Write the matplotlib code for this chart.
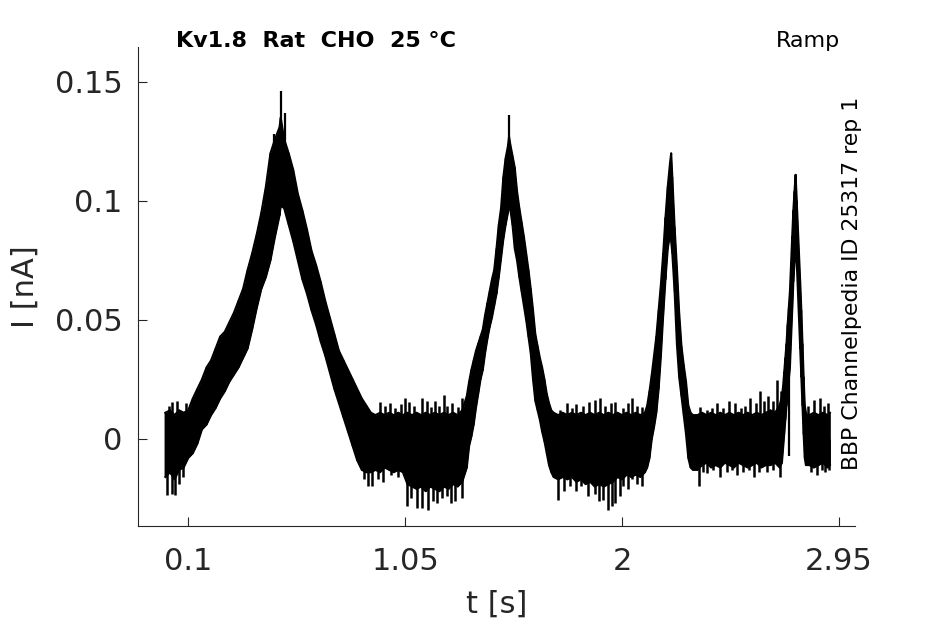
import numpy as np
import matplotlib
matplotlib.use("Agg")
import matplotlib.pyplot as plt

# time samples [s] and upper / lower edge of the dense part of the current trace [nA]
t_s = [0.00, 0.02, 0.04, 0.06, 0.08, 0.10,
       0.12, 0.14, 0.16, 0.18, 0.20, 0.22, 0.24, 0.26, 0.28, 0.30,
       0.32, 0.34, 0.36, 0.38, 0.40, 0.42, 0.44, 0.46, 0.48, 0.50, 0.505,
       0.52, 0.54, 0.56, 0.58, 0.60, 0.62, 0.64, 0.66, 0.68, 0.70,
       0.72, 0.74, 0.76, 0.78, 0.80, 0.82, 0.84, 0.86, 0.88,
       0.90, 0.92, 0.94, 0.96, 0.98, 1.00, 1.02, 1.04, 1.06, 1.08,
       1.10, 1.12, 1.14, 1.16, 1.18, 1.20, 1.22, 1.24, 1.26, 1.28, 1.30,
       1.32, 1.33, 1.34, 1.35, 1.36, 1.37, 1.38, 1.39, 1.40, 1.41,
       1.42, 1.43, 1.44, 1.45, 1.46, 1.47, 1.48, 1.49, 1.50, 1.505,
       1.51, 1.52, 1.53, 1.54, 1.55, 1.56, 1.57, 1.58, 1.59, 1.60,
       1.61, 1.62, 1.63, 1.64, 1.65, 1.66, 1.67, 1.68, 1.69, 1.70,
       1.72, 1.74, 1.76, 1.78, 1.80, 1.82, 1.84, 1.86, 1.88, 1.90,
       1.92, 1.94, 1.96, 1.98, 2.00, 2.02, 2.04, 2.06, 2.08, 2.10, 2.11,
       2.12, 2.13, 2.14, 2.15, 2.16, 2.17, 2.18, 2.19, 2.20, 2.21, 2.215,
       2.22, 2.23, 2.24, 2.25, 2.26, 2.27, 2.28, 2.29, 2.30, 2.31,
       2.33, 2.35, 2.37, 2.39, 2.41, 2.43, 2.45, 2.47, 2.49, 2.51,
       2.53, 2.55, 2.57, 2.59, 2.61, 2.63, 2.65, 2.67, 2.69,
       2.70, 2.705, 2.71, 2.715, 2.72, 2.725, 2.73, 2.735, 2.74, 2.745,
       2.75, 2.755, 2.76, 2.765, 2.77, 2.775, 2.78, 2.785, 2.79, 2.795,
       2.80, 2.805, 2.81,
       2.82, 2.84, 2.86, 2.88, 2.90, 2.91]

hi_na = [0.011, 0.012, 0.010, 0.012, 0.011, 0.012,
         0.017, 0.021, 0.025, 0.030, 0.033, 0.038, 0.043, 0.045, 0.049, 0.053,
         0.058, 0.063, 0.071, 0.078, 0.086, 0.095, 0.106, 0.120, 0.126, 0.131, 0.135,
         0.126, 0.120, 0.113, 0.103, 0.096, 0.088, 0.079, 0.073, 0.066, 0.058,
         0.051, 0.044, 0.037, 0.033, 0.029, 0.025, 0.021, 0.017, 0.014,
         0.011, 0.010, 0.011, 0.010, 0.011, 0.010, 0.011, 0.010, 0.011, 0.010,
         0.011, 0.010, 0.011, 0.010, 0.011, 0.010, 0.011, 0.010, 0.011, 0.010, 0.012,
         0.018, 0.024, 0.029, 0.033, 0.037, 0.040, 0.043, 0.046, 0.052, 0.057,
         0.062, 0.067, 0.071, 0.080, 0.090, 0.097, 0.110, 0.118, 0.123, 0.127,
         0.124, 0.119, 0.114, 0.104, 0.097, 0.091, 0.085, 0.078, 0.071, 0.063,
         0.054, 0.044, 0.039, 0.034, 0.030, 0.025, 0.019, 0.015, 0.012, 0.011,
         0.010, 0.011, 0.010, 0.011, 0.010, 0.011, 0.010, 0.011, 0.010, 0.011,
         0.010, 0.011, 0.010, 0.011, 0.010, 0.011, 0.010, 0.011, 0.010, 0.011, 0.014,
         0.020, 0.027, 0.035, 0.043, 0.054, 0.065, 0.078, 0.093, 0.106, 0.116, 0.120,
         0.110, 0.089, 0.072, 0.053, 0.039, 0.031, 0.024, 0.014, 0.011, 0.010,
         0.010, 0.011, 0.010, 0.011, 0.010, 0.011, 0.010, 0.011, 0.010, 0.011,
         0.010, 0.011, 0.010, 0.011, 0.010, 0.011, 0.012, 0.011, 0.014,
         0.018, 0.022, 0.028, 0.034, 0.040, 0.048, 0.055, 0.062, 0.074, 0.085,
         0.096, 0.104, 0.111, 0.100, 0.088, 0.077, 0.066, 0.054, 0.040, 0.026,
         0.014, 0.011, 0.010,
         0.010, 0.011, 0.010, 0.011, 0.010, 0.011]

lo_na = [-0.016, -0.014, -0.017, -0.013, -0.012, -0.008,
         -0.006, -0.002, 0.004, 0.006, 0.010, 0.013, 0.017, 0.020, 0.024, 0.027,
         0.030, 0.034, 0.038, 0.046, 0.055, 0.063, 0.068, 0.075, 0.085, 0.094, 0.098,
         0.097, 0.090, 0.083, 0.075, 0.067, 0.061, 0.054, 0.048, 0.041, 0.035,
         0.028, 0.021, 0.015, 0.009, 0.003, -0.003, -0.009, -0.013, -0.014,
         -0.014, -0.013, -0.014, -0.012, -0.013, -0.014, -0.013, -0.014, -0.019, -0.020,
         -0.021, -0.020, -0.022, -0.020, -0.021, -0.022, -0.020, -0.021, -0.019, -0.020, -0.018,
         -0.012, -0.003, 0.001, 0.006, 0.013, 0.019, 0.025, 0.029, 0.036, 0.042,
         0.047, 0.051, 0.056, 0.061, 0.068, 0.076, 0.084, 0.090, 0.095, 0.098,
         0.097, 0.090, 0.080, 0.075, 0.068, 0.062, 0.056, 0.050, 0.043, 0.036,
         0.025, 0.016, 0.012, 0.008, 0.003, -0.001, -0.006, -0.011, -0.014, -0.016,
         -0.017, -0.016, -0.017, -0.016, -0.018, -0.017, -0.019, -0.018, -0.020, -0.019,
         -0.020, -0.019, -0.018, -0.016, -0.017, -0.015, -0.016, -0.015, -0.016, -0.014, -0.012,
         -0.008, 0.000, 0.005, 0.011, 0.021, 0.035, 0.052, 0.067, 0.080, 0.086, 0.083,
         0.078, 0.062, 0.040, 0.026, 0.018, 0.010, 0.002, -0.008, -0.012, -0.013,
         -0.013, -0.011, -0.010, -0.012, -0.011, -0.012, -0.010, -0.011, -0.012, -0.010,
         -0.011, -0.012, -0.011, -0.010, -0.012, -0.011, -0.011, -0.010, -0.012,
         -0.010, -0.004, 0.002, 0.008, 0.014, 0.020, 0.025, 0.030, 0.042, 0.055,
         0.066, 0.074, 0.078, 0.074, 0.062, 0.050, 0.038, 0.026, 0.014, 0.002,
         -0.008, -0.011, -0.011,
         -0.011, -0.012, -0.011, -0.010, -0.012, -0.011]

# narrow noise spikes on the flat parts: tip values [nA], drawn from 0
spike_up_t = [0.015, 0.030, 0.051, 0.090,
              0.941, 0.962, 0.984, 1.005, 1.030, 1.050, 1.065, 1.090, 1.123, 1.145,
              1.165, 1.181, 1.200, 1.218, 1.235, 1.255, 1.280, 1.298,
              1.729, 1.758, 1.780, 1.800, 1.830, 1.853, 1.882, 1.904, 1.925, 1.950,
              1.970, 2.006, 2.025, 2.043, 2.065, 2.086,
              2.343, 2.370, 2.395, 2.416, 2.440, 2.467, 2.496, 2.520, 2.540, 2.562,
              2.585, 2.604, 2.620, 2.641, 2.660, 2.678, 2.695,
              2.815, 2.840, 2.867, 2.885, 2.900]
spike_up_na = [0.014, 0.0155, 0.016, 0.015,
               0.0157, 0.014, 0.015, 0.013, 0.0145, 0.017, 0.0155, 0.014, 0.017, 0.016,
               0.0135, 0.016, 0.014, 0.0185, 0.014, 0.015, 0.0135, 0.017,
               0.012, 0.015, 0.013, 0.0145, 0.014, 0.0157, 0.0164, 0.017, 0.014, 0.015,
               0.0157, 0.0129, 0.015, 0.017, 0.014, 0.0136,
               0.0136, 0.012, 0.013, 0.015, 0.013, 0.016, 0.015, 0.013, 0.014, 0.017,
               0.015, 0.020, 0.016, 0.018, 0.016, 0.0248, 0.020,
               0.014, 0.0164, 0.017, 0.014, 0.015]

spike_down_t = [0.007, 0.029, 0.043, 0.060, 0.078,
                0.870, 0.889, 0.904, 0.930, 0.955, 0.990, 1.020, 1.057, 1.075, 1.100,
                1.123, 1.152, 1.170, 1.188, 1.210, 1.232, 1.250, 1.268, 1.298,
                1.721, 1.745, 1.773, 1.800, 1.820, 1.850, 1.882, 1.900, 1.918, 1.940,
                1.955, 1.970, 1.990, 2.006, 2.025, 2.043, 2.065, 2.086,
                2.335, 2.355, 2.372, 2.400, 2.430, 2.460, 2.480, 2.503, 2.530, 2.555,
                2.577, 2.600, 2.635, 2.660, 2.693,
                2.826, 2.855, 2.875, 2.890, 2.905]
spike_down_na = [-0.0235, -0.023, -0.0235, -0.019, -0.016,
                 -0.017, -0.020, -0.020, -0.017, -0.018, -0.015, -0.016, -0.028, -0.025, -0.029,
                 -0.029, -0.030, -0.026, -0.027, -0.025, -0.024, -0.027, -0.026, -0.025,
                 -0.0256, -0.022, -0.020, -0.022, -0.020, -0.024, -0.023, -0.026, -0.0256, -0.030,
                 -0.028, -0.027, -0.024, -0.020, -0.021, -0.017, -0.019, -0.020,
                 -0.020, -0.014, -0.0143, -0.013, -0.016, -0.014, -0.013, -0.015, -0.014, -0.013,
                 -0.016, -0.014, -0.014, -0.013, -0.016,
                 -0.014, -0.015, -0.013, -0.014, -0.013]

# sharp spikes on the ramps: time [s], start and tip [nA]
ramp_spike_t = [0.474, 0.505, 0.522, 1.505, 2.730]
ramp_spike_from = [0.110, 0.120, 0.115, 0.110, 0.050]
ramp_spike_to = [0.128, 0.146, 0.137, 0.136, -0.007]

x_ticks = [0.1, 1.05, 2, 2.95]
x_labels = ["0.1", "1.05", "2", "2.95"]
y_ticks = [0, 0.05, 0.1, 0.15]
y_labels = ["0", "0.05", "0.1", "0.15"]

grey = "#262626"
W, H = 945, 624

fig = plt.figure(figsize=(W / 100, H / 100), dpi=100)
ax = fig.add_axes([138 / W, 1 - 526 / H, (855 - 138) / W, (526 - 47) / H])

t = np.array(t_s)
hi = np.array(hi_na)
lo = np.array(lo_na)

# dense band of the noisy recording
ax.fill_between(t, lo, hi, color="black", linewidth=0)
ax.plot(np.repeat(t, 2), np.column_stack([hi, lo]).ravel(), color="black", lw=1.2)
ax.plot(t, hi, color="black", lw=1.5)
ax.plot(t, lo, color="black", lw=1.5)
ax.vlines(spike_up_t, 0, spike_up_na, color="black", lw=1.8)
ax.vlines(spike_down_t, 0, spike_down_na, color="black", lw=1.8)
ax.vlines(ramp_spike_t, ramp_spike_from, ramp_spike_to, color="black", lw=1.6)

ax.set_xlim(-0.12, 3.02)
ax.set_ylim(-0.0366, 0.1647)

ax.set_xticks(x_ticks)
ax.set_xticklabels(x_labels)
ax.set_yticks(y_ticks)
ax.set_yticklabels(y_labels)

for side in ["top", "right"]:
    ax.spines[side].set_visible(False)
for side in ["left", "bottom"]:
    ax.spines[side].set_color(grey)
    ax.spines[side].set_linewidth(0.8)

ax.tick_params(axis="both", direction="in", length=6.5, width=0.8,
               colors=grey, labelsize=22)
ax.tick_params(axis="x", pad=15)
ax.tick_params(axis="y", pad=11)

ax.set_xlabel("t [s]", fontsize=22, color=grey)
ax.set_ylabel("I [nA]", fontsize=22, color=grey)
ax.xaxis.set_label_coords(0.5, (526 - 590) / 479)
ax.yaxis.set_label_coords((40 - 138) / 717, 0.5)

fig.text(176 / W, 1 - 47 / H, "Kv1.8  Rat  CHO  25 °C", fontsize=16,
         fontweight="bold", color="black", ha="left", va="baseline")
fig.text(840 / W, 1 - 47 / H, "Ramp", fontsize=16, color="black",
         ha="right", va="baseline")
fig.text(858 / W, 1 - 470 / H, "BBP Channelpedia ID 25317 rep 1", fontsize=15.8,
         color="black", rotation=90, rotation_mode="anchor",
         ha="left", va="baseline")

fig.savefig("out.png", dpi=100)
